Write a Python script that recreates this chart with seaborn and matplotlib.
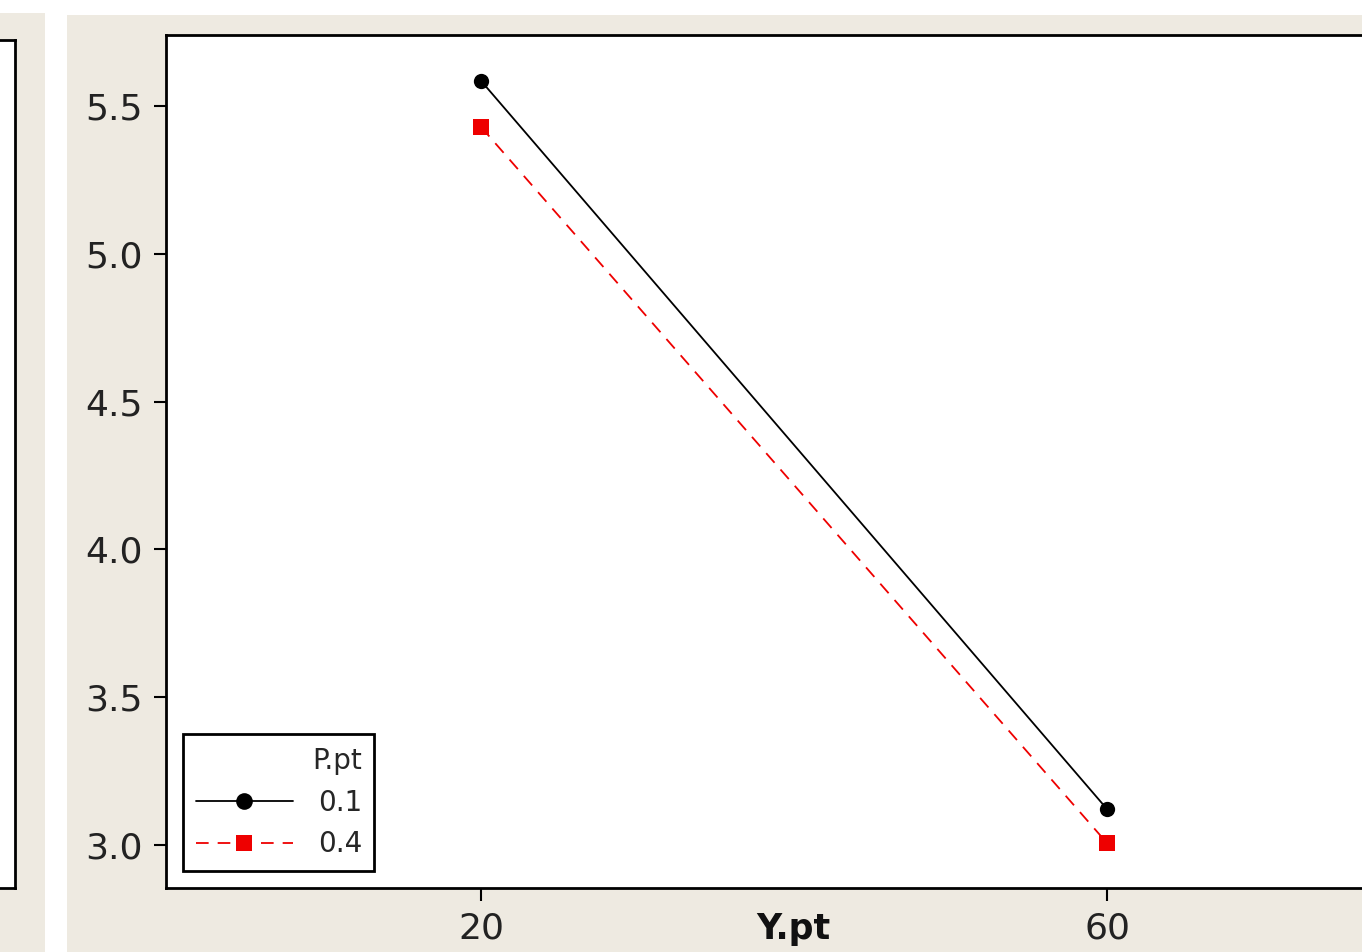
import matplotlib
matplotlib.use("Agg")
import matplotlib.pyplot as plt
import seaborn as sns
import pandas as pd
from matplotlib.patches import Rectangle
from matplotlib.lines import Line2D

# ---- data ----
y_pt_levels = [20, 60]
p_pt_levels = ["0.1", "0.4"]
mean_p01 = [5.585, 3.122]
mean_p04 = [5.429, 3.007]
y_ticks = [3.0, 3.5, 4.0, 4.5, 5.0, 5.5]
x_ticks = [20, 60]

df = pd.DataFrame({
    "Y.pt": y_pt_levels * 2,
    "P.pt": [p_pt_levels[0]] * 2 + [p_pt_levels[1]] * 2,
    "Mean": mean_p01 + mean_p04,
})

sns.set_style("white")
plt.rcParams["font.family"] = ["DejaVu Sans"]

W, H = 1362, 952
fig = plt.figure(figsize=(W / 100, H / 100), dpi=100, facecolor="white")
BEIGE = "#EEEAE1"

def px_rect(x0, y0, x1, y1):
    return [x0 / W, 1 - y1 / H, (x1 - x0) / W, (y1 - y0) / H]

# beige panel backgrounds
r = px_rect(0, 13, 45, 952)
fig.patches.append(Rectangle((r[0], r[1]), r[2], r[3], transform=fig.transFigure,
                             facecolor=BEIGE, edgecolor="none", zorder=-10))
r = px_rect(67, 15, 1362, 952)
fig.patches.append(Rectangle((r[0], r[1]), r[2], r[3], transform=fig.transFigure,
                             facecolor=BEIGE, edgecolor="none", zorder=-10))

# left (cut-off) panel
axl = fig.add_axes(px_rect(-60, 40, 15, 888))
axl.set_facecolor("white")
axl.set_xticks([]); axl.set_yticks([])
for s in axl.spines.values():
    s.set_color("black"); s.set_linewidth(2)

# main plot
ax = fig.add_axes(px_rect(166, 35, 1420, 888))
ax.set_facecolor("white")
palette = {"0.1": "black", "0.4": "#EE0000"}
sns.lineplot(data=df, x="Y.pt", y="Mean", hue="P.pt", style="P.pt",
             palette=palette, markers={"0.1": "o", "0.4": "s"},
             dashes={"0.1": "", "0.4": (7, 5)}, markersize=11,
             markeredgewidth=0, linewidth=1.3, ax=ax, legend=False)

ax.set_xlim(-0.13, 80)
ax.set_ylim(2.855, 5.74)
ax.set_xticks(x_ticks)
ax.set_xticklabels([str(v) for v in x_ticks])
ax.set_yticks(y_ticks)
ax.set_yticklabels([f"{v:.1f}" for v in y_ticks])
ax.tick_params(axis="both", direction="out", length=9, width=1.5, color="black",
               labelsize=26, labelcolor="#222222", left=True, bottom=True)
ax.tick_params(axis="y", pad=8)
ax.tick_params(axis="x", pad=8)
for s in ax.spines.values():
    s.set_visible(True); s.set_color("black"); s.set_linewidth(2)

ax.set_ylabel("")
ax.set_xlabel("Y.pt", fontsize=25, fontweight="bold", color="#111111")
ax.xaxis.set_label_coords(0.5, -0.028)

handles = [
    Line2D([], [], color="black", linestyle="-", linewidth=1.3, marker="o",
           markersize=12, markeredgewidth=0),
    Line2D([], [], color="#EE0000", linestyle=(0, (7, 5)), linewidth=1.3, marker="s",
           markersize=12, markeredgewidth=0),
]
leg = ax.legend(handles, p_pt_levels, title="P.pt", loc="lower left",
                bbox_to_anchor=((183 - 166) / 1254, (888 - 871) / 853),
                borderaxespad=0, fontsize=20, title_fontsize=20, frameon=True,
                fancybox=False, edgecolor="black", facecolor="white",
                framealpha=1, alignment="right", handlelength=3.5,
                borderpad=0.45, labelspacing=0.5, handletextpad=0.9)
leg.get_frame().set_linewidth(2)

fig.savefig("out.png", dpi=100, facecolor=fig.get_facecolor())
